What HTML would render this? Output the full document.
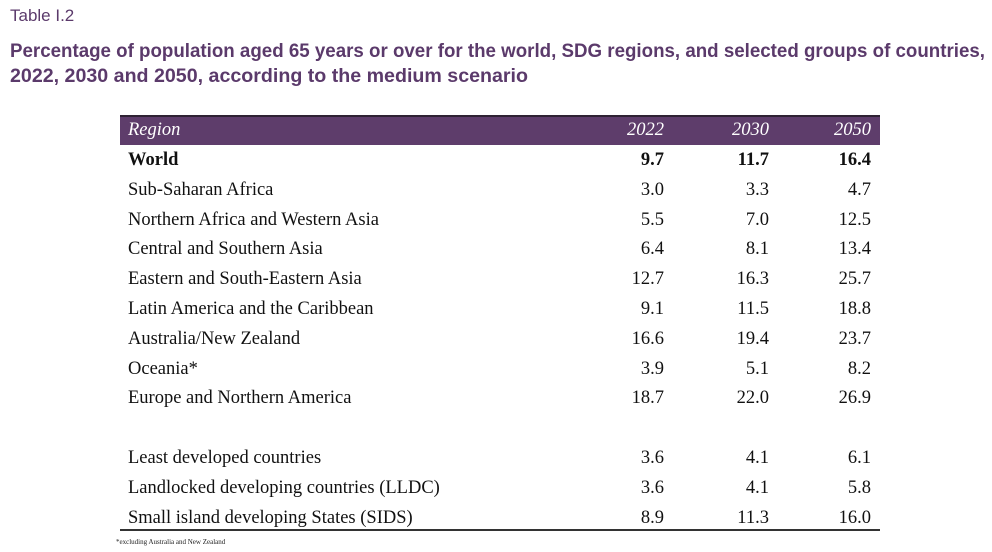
<!DOCTYPE html>
<html><head><meta charset="utf-8"><style>
body{margin:0;width:992px;height:552px;background:#fff;position:relative;overflow:hidden;font-family:"Liberation Serif",serif;}
.t{position:absolute;white-space:nowrap;transform-origin:0 0;}
#lbl{left:10px;top:6px;font-family:"Liberation Sans",sans-serif;font-size:17px;color:#5b3a6b;}
.ttl{left:10px;font-family:"Liberation Sans",sans-serif;font-weight:bold;font-size:19.5px;color:#5b3a6b;}
#hdr{position:absolute;left:120px;top:115px;width:760px;height:30px;background:#5e3d6b;border-top:2px solid #2e2233;box-sizing:border-box;}
.h{position:absolute;top:120px;color:#fff;font-style:italic;font-size:18.5px;}
.c{position:absolute;font-size:18.5px;color:#111;line-height:20px;}
.r{text-align:right;width:80px;}
#bot{position:absolute;left:120px;top:529px;width:760px;height:2px;background:#333;}
#fn{position:absolute;left:116px;top:538px;font-size:7px;color:#222;}
</style></head><body>
<div id="lbl" class="t">Table I.2</div>
<div id="t1" class="t ttl" style="top:40px">Percentage of population aged 65 years or over for the world, SDG regions, and selected groups of countries,</div>
<div id="t2" class="t ttl" style="top:65px">2022, 2030 and 2050, according to the medium scenario</div>
<div id="hdr"></div>
<div class="h" style="left:128px">Region</div>
<div class="h r" style="left:584px">2022</div>
<div class="h r" style="left:689px">2030</div>
<div class="h r" style="left:791px">2050</div>
<div id="rows"></div>
<div id="bot"></div>
<div id="fn">*excluding Australia and New Zealand</div>
<script>
const regions=["World","Sub-Saharan Africa","Northern Africa and Western Asia","Central and Southern Asia","Eastern and South-Eastern Asia","Latin America and the Caribbean","Australia/New Zealand","Oceania*","Europe and Northern America","Least developed countries","Landlocked developing countries (LLDC)","Small island developing States (SIDS)"];
const v2022=["9.7","3.0","5.5","6.4","12.7","9.1","16.6","3.9","18.7","3.6","3.6","8.9"];
const v2030=["11.7","3.3","7.0","8.1","16.3","11.5","19.4","5.1","22.0","4.1","4.1","11.3"];
const v2050=["16.4","4.7","12.5","13.4","25.7","18.8","23.7","8.2","26.9","6.1","5.8","16.0"];
const rows=document.getElementById('rows');
regions.forEach((reg,i)=>{
  const y=150+i*29.8+(i>=9?30:0);
  const bold=i===0?'font-weight:bold;':'';
  const mk=(txt,left,cls,name)=>{
    const d=document.createElement('div');
    d.className='c'+(cls?' '+cls:'');
    d.style.cssText+='left:'+left+'px;top:'+y+'px;'+bold;
    d.textContent=txt;
    
    
    rows.appendChild(d);
  };
  mk(reg,128,'','row-label');
  mk(v2022[i],584,'r','cell-2022');
  mk(v2030[i],689,'r','cell-2030');
  mk(v2050[i],791,'r','cell-2050');
});
[['t1',975],['t2',518]].forEach(([id,w])=>{
  const e=document.getElementById(id);
  const s=w/e.getBoundingClientRect().width;
  e.style.transform='scaleX('+s+')';
});
</script>
</body></html>
